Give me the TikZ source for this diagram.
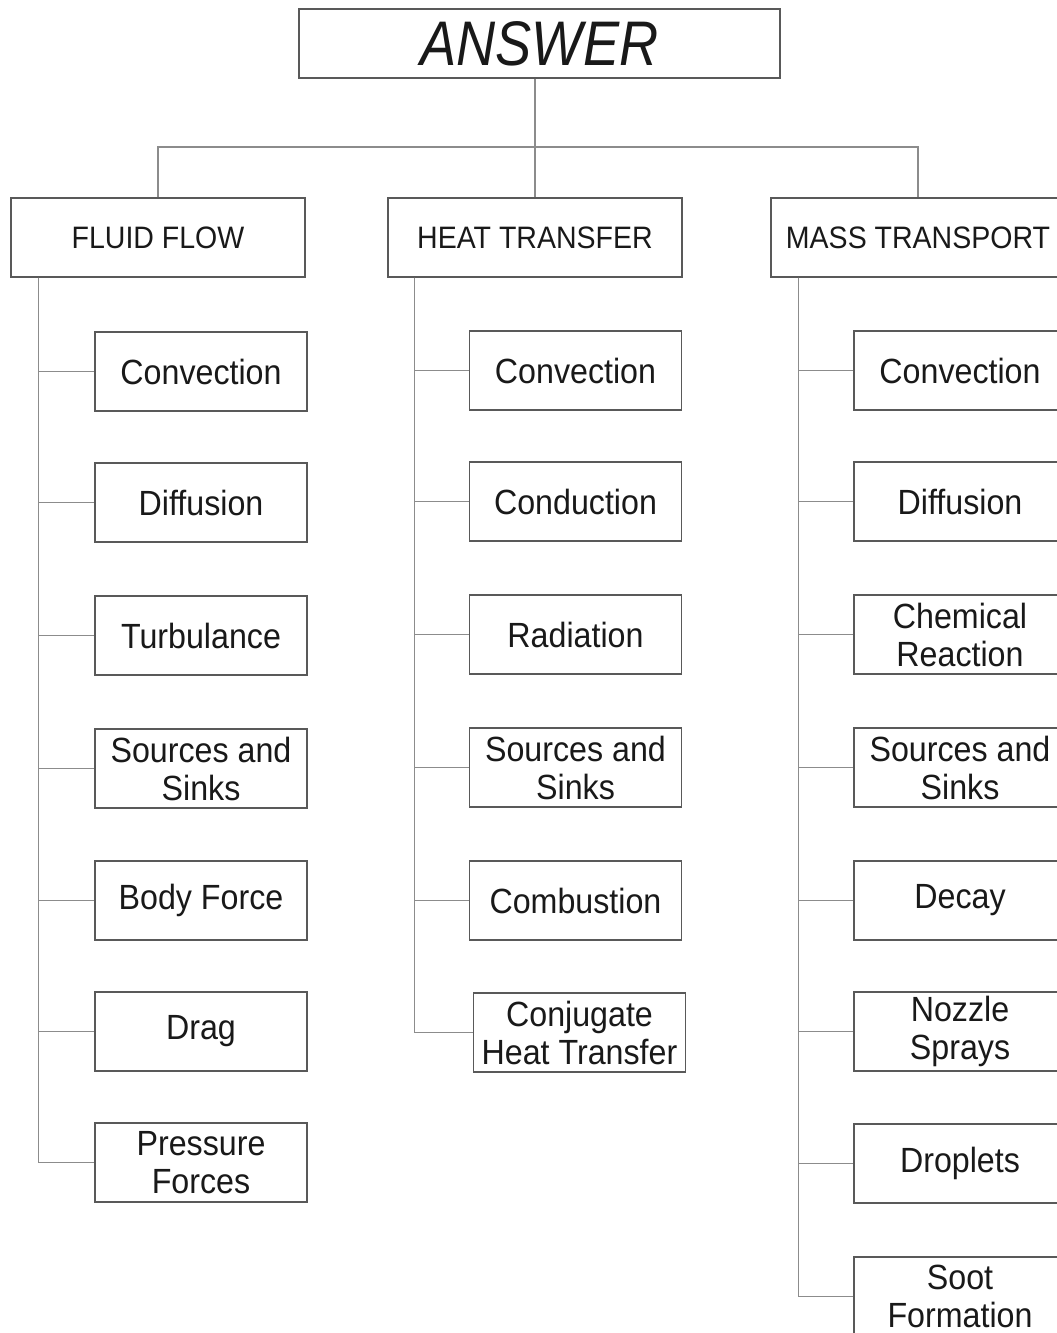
\documentclass[tikz,border=0pt]{standalone}
\usepackage{fontspec}
\setmainfont{Liberation Sans}[FakeStretch=0.92]
\newfontfamily\answerfont{Liberation Sans}[FakeStretch=0.86]
\begin{document}
\begin{tikzpicture}[x=1pt,y=-1pt,
  box/.style={draw=black!65,line width=1.3pt,rectangle,inner sep=0pt,align=center,text=black!90},
  topbox/.style={box,minimum width=481pt,minimum height=69pt,font=\answerfont\itshape\fontsize{63}{70}\selectfont},
  headbox/.style={box,minimum width=294pt,minimum height=79pt,font=\fontsize{31}{36}\selectfont},
  leafbox/.style={box,minimum width=212pt,minimum height=79pt,font=\fontsize{35}{38}\selectfont},
  link/.style={draw=black!45,line width=1.3pt}]
\useasboundingbox (0,0) rectangle (1057,1333);
\clip (0,0) rectangle (1057,1333);
\fill[white] (0,0) rectangle (1057,1333);

\node[topbox] (answer) at (539.5,43.5) {ANSWER};
\node[headbox] (fluid) at (158,237.5) {FLUID FLOW};
\node[headbox] (heat) at (535,237.5) {HEAT TRANSFER};
\node[headbox] (mass) at (918,237.5) {MASS TRANSPORT};

\coordinate (bus) at (535,147);
\draw[link] (answer.south -| bus) -- (bus);
\draw[link] (fluid.north) |- (bus) -| (mass.north);
\draw[link] (bus) -- (heat.north);

% Fluid flow column
\node[leafbox] (f1) at (201,371.5) {Convection};
\node[leafbox] (f2) at (201,502.5) {Diffusion};
\node[leafbox] (f3) at (201,635.5) {Turbulance};
\node[leafbox] (f4) at (201,768.5) {Sources and\\Sinks};
\node[leafbox] (f5) at (201,900.5) {Body Force};
\node[leafbox] (f6) at (201,1031.5) {Drag};
\node[leafbox] (f7) at (201,1162.5) {Pressure\\Forces};
\coordinate (ft) at ([xshift=28pt]fluid.south west);
\foreach \c in {f1,f2,f3,f4,f5,f6,f7} \draw[link] (ft) |- (\c.west);

% Heat transfer column
\node[leafbox] (h1) at (575.5,370.5) {Convection};
\node[leafbox] (h2) at (575.5,501.5) {Conduction};
\node[leafbox] (h3) at (575.5,634.5) {Radiation};
\node[leafbox] (h4) at (575.5,767.5) {Sources and\\Sinks};
\node[leafbox] (h5) at (575.5,900.5) {Combustion};
\node[leafbox] (h6) at (579.5,1032.5) {Conjugate\\Heat Transfer};
\coordinate (ht) at ([xshift=27pt]heat.south west);
\foreach \c in {h1,h2,h3,h4,h5,h6} \draw[link] (ht) |- (\c.west);

% Mass transport column
\node[leafbox] (m1) at (960,370.5) {Convection};
\node[leafbox] (m2) at (960,501.5) {Diffusion};
\node[leafbox] (m3) at (960,634.5) {Chemical\\Reaction};
\node[leafbox] (m4) at (960,767.5) {Sources and\\Sinks};
\node[leafbox] (m5) at (960,900.5) {Decay};
\node[leafbox] (m6) at (960,1031.5) {Nozzle\\Sprays};
\node[leafbox] (m7) at (960,1163.5) {Droplets};
\node[leafbox] (m8) at (960,1296.5) {Soot\\Formation};
\coordinate (mt) at ([xshift=28pt]mass.south west);
\foreach \c in {m1,m2,m3,m4,m5,m6,m7,m8} \draw[link] (mt) |- (\c.west);
\end{tikzpicture}
\end{document}
